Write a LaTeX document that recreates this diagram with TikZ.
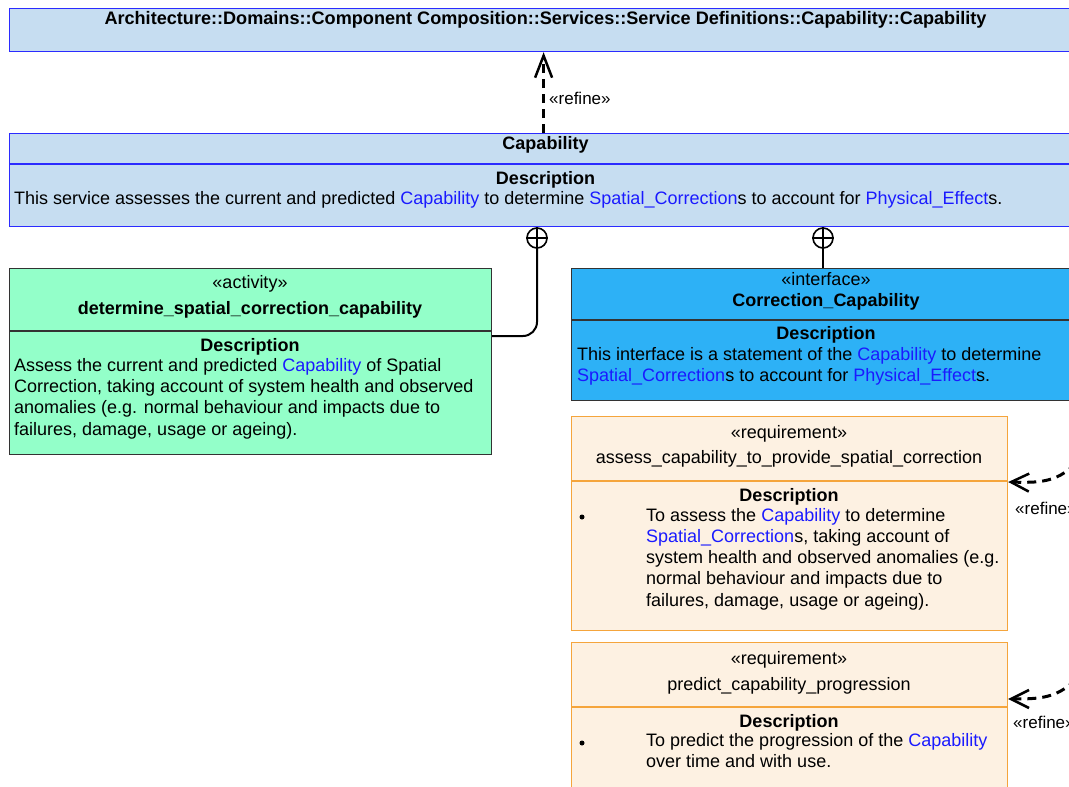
\documentclass[tikz,border=0pt]{standalone}
\usepackage{fontspec}
\setmainfont{Liberation Sans}
\usetikzlibrary{arrows.meta}
\definecolor{pkgfill}{HTML}{C6DDF1}
\definecolor{pkgline}{HTML}{2B2BFF}
\definecolor{actfill}{HTML}{93FFC9}
\definecolor{ifill}{HTML}{2DB1F6}
\definecolor{reqfill}{HTML}{FDF1E2}
\definecolor{reqline}{HTML}{F5A53C}
\definecolor{linkblue}{HTML}{1A1AFF}
\definecolor{frame}{HTML}{333333}
\newcommand{\lnk}[1]{\textcolor{linkblue}{#1}}
\newcommand{\bodyfont}{\fontsize{18}{21}\selectfont}
\begin{document}
\begin{tikzpicture}[x=1pt,y=-1pt,
  font=\bodyfont,
  box/.style={draw, inner sep=0pt, anchor=north west, line width=1.2pt},
  ctxt/.style={inner sep=0pt, anchor=base},
  btxt/.style={inner sep=0pt, anchor=base, font=\bodyfont\bfseries},
  ltxt/.style={inner sep=0pt, anchor=base west},
  reftxt/.style={inner sep=0pt, anchor=base west, font=\fontsize{17}{21}\selectfont},
  divider/.style={line width=1.2pt},
  lollipop/.style={draw, circle, minimum size=20pt, inner sep=0pt, line width=1.6pt},
  owned/.style={line width=2pt},
  refine/.style={line width=3pt, dash pattern=on 9pt off 6pt,
    -{Straight Barb[length=18pt, width=18pt, line width=2.5pt]}},
  refineup/.style={refine,
    -{Straight Barb[length=22pt, width=17pt, line width=2.5pt]}},
  bullet/.style={circle, fill=black, inner sep=0pt, minimum size=5pt}]
\useasboundingbox (0,0) rectangle (1069,787);
\clip (0,0) rectangle (1069,787);

% package frame
\node[box, draw=pkgline, fill=pkgfill, minimum width=1073pt, minimum height=43pt] (arch) at (9,8) {};
\node[btxt, font=\fontsize{18.1}{21}\selectfont\bfseries] (archname) at (545.5,24)
  {Architecture::Domains::Component Composition::Services::Service Definitions::Capability::Capability};

% service block
\node[box, draw=pkgline, fill=pkgfill, minimum width=1073pt, minimum height=93pt] (cap) at (9,133) {};
\draw[divider, pkgline] (9,164) -- (1082,164);
\node[btxt] (capname) at (545.5,149) {Capability};
\node[btxt] (capdh) at (545.5,184) {Description};
\node[ltxt] (capd) at (14,204) {This service assesses the current and predicted \lnk{Capability} to determine \lnk{Spatial\_Correction}s to account for \lnk{Physical\_Effect}s.};

% activity
\node[box, draw=frame, fill=actfill, minimum width=482pt, minimum height=186pt] (act) at (9,268) {};
\draw[divider, frame] (9,331) -- (491,331);
\node[ctxt] (actst) at (250,288) {«activity»};
\node[btxt] (actname) at (250,314) {determine\_spatial\_correction\_capability};
\node[btxt] (actdh) at (250,351) {Description};
\node[ltxt] (actd1) at (14,371) {Assess the current and predicted \lnk{Capability} of Spatial};
\node[ltxt] (actd2) at (14,392.3) {Correction, taking account of system health and observed};
\node[ltxt] (actd3) at (14,413.6) {anomalies (e.g. normal behaviour and impacts due to};
\node[ltxt] (actd4) at (14,435) {failures, damage, usage or ageing).};

% interface
\node[box, draw=frame, fill=ifill, minimum width=510pt, minimum height=132pt] (iface) at (571,268) {};
\draw[divider, frame] (571,320) -- (1081,320);
\node[ctxt] (ifst) at (826,285) {«interface»};
\node[btxt] (ifname) at (826,306) {Correction\_Capability};
\node[btxt] (ifdh) at (826,339) {Description};
\node[ltxt] (ifd1) at (577,360) {This interface is a statement of the \lnk{Capability} to determine};
\node[ltxt] (ifd2) at (577,381) {\lnk{Spatial\_Correction}s to account for \lnk{Physical\_Effect}s.};

% requirement 1
\node[box, draw=reqline, fill=reqfill, minimum width=436pt, minimum height=214pt] (reqa) at (571,416) {};
\draw[divider, reqline] (571,481) -- (1007,481);
\node[ctxt] (reqast) at (789,438) {«requirement»};
\node[ctxt] (reqaname) at (789,463) {assess\_capability\_to\_provide\_spatial\_correction};
\node[btxt] (reqadh) at (789,501) {Description};
\node[bullet] (reqab) at (582,517) {};
\node[ltxt] (reqa1) at (646,521) {To assess the \lnk{Capability} to determine};
\node[ltxt] (reqa2) at (646,542) {\lnk{Spatial\_Correction}s, taking account of};
\node[ltxt] (reqa3) at (646,563) {system health and observed anomalies (e.g.};
\node[ltxt] (reqa4) at (646,584) {normal behaviour and impacts due to};
\node[ltxt] (reqa5) at (646,606) {failures, damage, usage or ageing).};

% requirement 2
\node[box, draw=reqline, fill=reqfill, minimum width=436pt, minimum height=170pt] (reqb) at (571,642) {};
\draw[divider, reqline] (571,707) -- (1007,707);
\node[ctxt] (reqbst) at (789,664) {«requirement»};
\node[ctxt] (reqbname) at (789,690) {predict\_capability\_progression};
\node[btxt] (reqbdh) at (789,727) {Description};
\node[bullet] (reqbb) at (582,743) {};
\node[ltxt] (reqb1) at (646,746) {To predict the progression of the \lnk{Capability}};
\node[ltxt] (reqb2) at (646,767) {over time and with use.};

% ownership lollipops
\node[lollipop] (pa) at (537,238) {};
\draw[line width=1.6pt] (pa.north) -- (pa.south) (pa.west) -- (pa.east);
\node[lollipop] (pb) at (823,238) {};
\draw[line width=1.6pt] (pb.north) -- (pb.south) (pb.west) -- (pb.east);
\draw[owned, rounded corners=14pt] (pa.south) |- ([yshift=-68pt]act.north east);
\draw[owned] (pb.south) -- (pb.south |- iface.north);

% refine dependencies
\draw[refineup] ([xshift=-2.5pt]cap.north) -- ([xshift=-2.5pt]arch.south);
\node[reftxt] (refa) at (549,104) {«refine»};

\coordinate (srca) at (1086,452);
\draw[refine] (srca) .. controls (1062,482) and (1045,483) .. ([yshift=-66pt]reqa.north east);
\node[reftxt] (refb) at (1015,514) {«refine»};

\coordinate (srcb) at (1086,668);
\draw[refine] (srcb) .. controls (1062,698) and (1045,699) .. ([yshift=-57pt]reqb.north east);
\node[reftxt] (refc) at (1013,728) {«refine»};
\end{tikzpicture}
\end{document}
